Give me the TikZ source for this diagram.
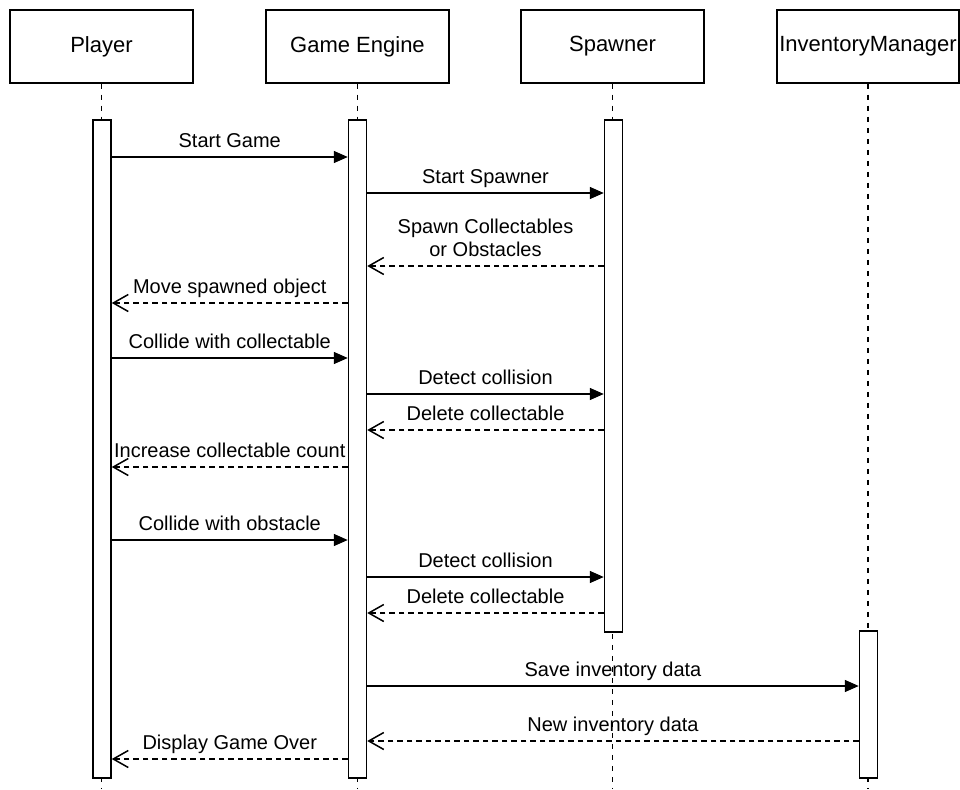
\documentclass[tikz,border=0pt]{standalone}
\usepackage{fontspec}
\setmainfont{Liberation Sans}
\usetikzlibrary{arrows.meta}

\begin{document}
\begin{tikzpicture}[x=1pt,y=-1pt,
  line width=1.5pt,
  header/.style={draw, fill=white, inner sep=0pt, minimum width=183pt, minimum height=73pt,
                 font=\fontsize{22}{26}\selectfont},
  actbar/.style={draw, fill=white, inner sep=0pt, minimum width=18pt},
  lifeline/.style={dash pattern=on 5.5pt off 5.5pt},
  sync/.style={-{Triangle[length=14pt,width=12pt]}},
  reply/.style={dash pattern=on 5.5pt off 4pt, -{Straight Barb[length=15pt,width=17pt]}},
  lbl/.style={midway, anchor=base, yshift=10pt, inner sep=0pt,
              font=\fontsize{20}{23}\selectfont}
]
\useasboundingbox (0,0) rectangle (960,789);

% participants
\node[header] (player)  at (101.5,46.5) {Player};
\node[header] (engine)  at (357.5,46.5) {Game Engine};
\node[header] (spawner) at (612.5,46.5) {Spawner};
\node[header, minimum width=182pt] (inv) at (868,46.5) {InventoryManager};

% lifeline ends at the bottom edge
\coordinate (pend) at (player.south |- 0,789);
\coordinate (gend) at (engine.south |- 0,789);
\coordinate (send) at (spawner.south |- 0,789);
\coordinate (iend) at (inv.south |- 0,789);
\draw[lifeline] (player.south) -- (pend);
\draw[lifeline] (engine.south) -- (gend);
\draw[lifeline] (spawner.south) -- (send);
\draw[lifeline] (inv.south) -- (iend);

% activation bars
\node[actbar, minimum height=658pt] (pbar) at (102,449) {};
\node[actbar, minimum height=658pt] (gbar) at (357.5,449) {};
\node[actbar, minimum height=512pt] (sbar) at (613.5,376) {};
\node[actbar, minimum height=147pt] (ibar) at (868.5,704.5) {};

% message levels
\coordinate (m1) at (0,157);
\coordinate (m2) at (0,193);
\coordinate (m3) at (0,266);
\coordinate (m4) at (0,303);
\coordinate (m5) at (0,358);
\coordinate (m6) at (0,394);
\coordinate (m7) at (0,430);
\coordinate (m8) at (0,467);
\coordinate (m9) at (0,540);
\coordinate (m10) at (0,577);
\coordinate (m11) at (0,613);
\coordinate (m12) at (0,686);
\coordinate (m13) at (0,741);
\coordinate (m14) at (0,759);

% messages
\draw[sync]  (pbar.east |- m1) -- node[lbl] {Start Game} (gbar.west |- m1);
\draw[sync]  (gbar.east |- m2) -- node[lbl] {Start Spawner} (sbar.west |- m2);
\draw[reply] (sbar.west |- m3) -- node[lbl, align=center, anchor=south, yshift=-1pt] {Spawn Collectables\\or Obstacles} (gbar.east |- m3);
\draw[reply] (gbar.west |- m4) -- node[lbl] {Move spawned object} (pbar.east |- m4);
\draw[sync]  (pbar.east |- m5) -- node[lbl] {Collide with collectable} (gbar.west |- m5);
\draw[sync]  (gbar.east |- m6) -- node[lbl] {Detect collision} (sbar.west |- m6);
\draw[reply] (sbar.west |- m7) -- node[lbl] {Delete collectable} (gbar.east |- m7);
\draw[reply] (gbar.west |- m8) -- node[lbl] {Increase collectable count} (pbar.east |- m8);
\draw[sync]  (pbar.east |- m9) -- node[lbl] {Collide with obstacle} (gbar.west |- m9);
\draw[sync]  (gbar.east |- m10) -- node[lbl] {Detect collision} (sbar.west |- m10);
\draw[reply] (sbar.west |- m11) -- node[lbl] {Delete collectable} (gbar.east |- m11);
\draw[sync]  (gbar.east |- m12) -- node[lbl] {Save inventory data} (ibar.west |- m12);
\draw[reply] (ibar.west |- m13) -- node[lbl] {New inventory data} (gbar.east |- m13);
\draw[reply] (gbar.west |- m14) -- node[lbl] {Display Game Over} (pbar.east |- m14);
\end{tikzpicture}
\end{document}
